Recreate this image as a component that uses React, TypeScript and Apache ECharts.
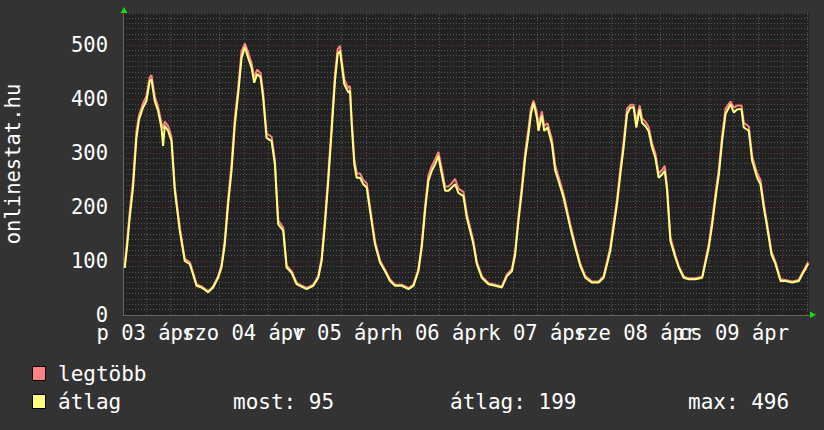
import React, { useEffect, useRef } from "react";
import * as echarts from "echarts";

// time in hours since 03 ápr 00:00
const hours = [
  6.82, 7.38, 8.05, 8.86, 9.69, 10.33, 11.31, 12.14, 12.95, 13.37, 14.18, 14.99, 15.82, 16.22, 16.63,
  17.44, 18.28, 19.09, 20.31, 21.54, 22.77, 23.58, 24.41, 25.64, 27.26, 28.48, 29.71, 30.54, 31.35, 32.16,
  33.0, 33.81, 34.62, 35.45, 36.26, 37.07, 37.91, 38.54, 39.28, 40.11, 40.75, 41.58, 42.81, 43.62, 44.43,
  45.66, 46.49, 47.72, 48.94,
  49.75, 51.4, 53.02, 54.24, 55.08, 55.89, 56.7, 57.53, 58.34, 59.0, 59.57, 59.98, 60.62, 61.6, 62.02,
  62.44, 63.08, 63.67, 64.48, 65.28, 66.12, 66.93, 68.15, 69.38, 70.61, 71.84, 73.07, 74.71, 76.33, 77.55,
  78.78, 79.61, 80.42, 81.23, 82.07, 82.88, 83.69, 84.53, 85.33, 86.14, 86.97, 87.78, 88.59, 89.82, 90.65,
  91.88,
  92.27, 93.11, 94.33, 95.95, 97.6, 99.24, 100.47, 101.69, 102.5, 103.31, 104.15, 104.96, 105.77, 106.36, 107.0,
  107.83, 108.22, 109.05, 109.62, 110.43, 111.51, 112.32, 113.13, 114.36, 115.19, 116.0, 117.22, 118.45, 119.68, 121.32,
  122.94, 124.17, 125.0, 125.81, 126.62, 127.45, 128.26, 129.07, 129.91, 130.72, 131.53, 132.19, 133.0, 133.59, 134.4,
  135.21, 136.04, 136.85, 137.66, 138.5, 139.14, 139.73, 140.54, 141.77, 142.58, 143.81, 145.04, 146.69, 148.33, 149.14,
  149.95, 150.79, 151.6, 152.41, 153.21, 154.05, 155.27, 156.08, 156.92, 157.95, 158.52, 159.75, 160.58, 161.8, 162.61,
  163.42, 164.26, 165.31, 166.3, 167.52, 168.75, 170.39, 172.0, 172.83, 173.64, 174.3,
];

// átlag (average)
const avgValues = [
  87, 125, 180, 236, 328, 362, 384, 396, 433, 436, 396, 378, 347, 313, 350,
  341, 322, 230, 156, 100, 94, 75, 54, 51, 42, 51, 69, 88, 131, 205,
  267, 353, 409, 476, 496, 476, 458, 430, 446, 440, 402, 328, 322, 279, 168,
  156, 88, 78, 57,
  54, 48, 54, 69, 100, 168, 248, 341, 433, 483, 489, 464, 427, 412, 415,
  353, 279, 254, 254, 242, 236, 193, 131, 97, 81, 63, 54, 54, 48, 54,
  81, 125, 193, 248, 267, 279, 294, 260, 230, 230, 236, 242, 226, 220, 180,
  143,
  131, 94, 69, 57, 54, 51, 72, 81, 112, 174, 230, 291, 335, 372, 393,
  365, 341, 369, 341, 347, 316, 267, 248, 217, 189, 162, 125, 91, 69, 60,
  60, 69, 94, 119, 162, 205, 260, 310, 372, 384, 384, 347, 381, 356, 350,
  340, 310, 291, 254, 260, 267, 230, 137, 106, 88, 69, 66, 66, 69, 97,
  125, 168, 217, 260, 322, 372, 390, 375, 381, 381, 347, 341, 285, 254, 242,
  199, 162, 112, 94, 63, 63, 60, 63, 75, 85, 95,
];

// legtöbb (maximum)
const maxValues = [
  92, 135, 192, 248, 340, 370, 392, 405, 440, 444, 405, 386, 356, 345, 358,
  350, 330, 238, 162, 104, 98, 78, 57, 53, 44, 53, 72, 93, 140, 215,
  280, 365, 420, 488, 503, 486, 466, 440, 454, 448, 410, 336, 330, 286, 175,
  162, 92, 81, 60,
  56, 50, 56, 72, 106, 178, 260, 352, 445, 492, 498, 474, 436, 420, 424,
  362, 288, 262, 262, 250, 244, 200, 136, 101, 84, 66, 56, 56, 50, 56,
  85, 132, 202, 258, 276, 288, 302, 270, 238, 238, 244, 252, 234, 228, 187,
  149,
  136, 98, 72, 59, 56, 53, 75, 85, 118, 183, 240, 302, 346, 382, 397,
  374, 352, 377, 350, 355, 325, 276, 256, 224, 196, 168, 130, 95, 72, 62,
  62, 72, 99, 126, 170, 214, 270, 320, 382, 389, 389, 358, 388, 364, 358,
  348, 318, 299, 262, 268, 276, 238, 144, 110, 91, 71, 68, 68, 71, 102,
  132, 176, 226, 270, 332, 382, 395, 384, 388, 388, 356, 349, 294, 262, 250,
  206, 168, 117, 98, 66, 65, 62, 65, 78, 89, 98,
];

// day labels, centred at noon; split over two axes so that none get hidden
const labelHoursA = [12, 60, 108, 156];
const labelsA = ["p 03 ápr", "v 05 ápr", "k 07 ápr", "cs 09 ápr"];
const labelHoursB = [36, 84, 132];
const labelsB = ["szo 04 ápr", "h 06 ápr", "sze 08 ápr"];
const minorGridHours = [12, 18, 30, 36, 42, 54, 60, 66, 78, 84, 90, 102, 108, 114, 126, 132, 138, 150, 156, 162, 174];
const dayGridHours = [24, 48, 72, 96, 120, 144, 168];
const majorValueLines = [100, 200, 300, 400, 500];
const legendNames = ["legtöbb", "átlag"];
const statTexts = ["most: 95", "átlag: 199", "max: 496"];

const FONT = "'DejaVu Sans Mono', monospace";
const MINOR = "#555555";
const MAJOR = "#6e3636";
const PINK = "#ff8080";
const YELLOW = "#ffff80";
const X_MIN = 6.4;
const X_MAX = 174.5;

function xAxisFor(vals: number[], texts: string[], showLine: boolean) {
  return {
    type: "value",
    position: "bottom",
    offset: 0,
    min: X_MIN,
    max: X_MAX,
    axisLine: { show: showLine, onZero: false, lineStyle: { color: "#666666", width: 1 } },
    axisTick: { show: false },
    splitLine: { show: false },
    axisLabel: {
      customValues: vals,
      showMinLabel: true,
      showMaxLabel: true,
      hideOverlap: false,
      formatter: (v: number) => {
        const i = vals.indexOf(v);
        return i >= 0 ? texts[i] : "";
      },
      color: "#ffffff",
      fontFamily: FONT,
      fontSize: 20.5,
      margin: 7,
    },
  };
}

export default function App() {
  const ref = useRef<HTMLDivElement>(null);
  useEffect(() => {
    const chart = echarts.init(ref.current!, null, { renderer: "svg" });
    const dotted = [1, 2];
    const legendText = (x: number, y: number, text: string) => ({
      type: "text",
      x,
      y,
      style: { text, fill: "#ffffff", fontFamily: FONT, fontSize: 21, verticalAlign: "middle" },
    });
    chart.setOption({
      animation: false,
      backgroundColor: "#333333",
      grid: {
        left: 123, right: 15, top: 13, bottom: 115,
        show: true, backgroundColor: "#222222", borderWidth: 0,
        containLabel: false, outerBoundsMode: "none",
      },
      xAxis: [xAxisFor(labelHoursA, labelsA, true), xAxisFor(labelHoursB, labelsB, false)],
      yAxis: {
        type: "value",
        min: 0,
        max: 559,
        interval: 10,
        axisLine: { show: true, lineStyle: { color: "#666666", width: 1 } },
        axisTick: { show: false },
        splitLine: { show: true, lineStyle: { color: MINOR, type: dotted, width: 1 } },
        axisLabel: {
          formatter: (v: number) => (v % 100 === 0 ? String(v) : ""),
          color: "#ffffff",
          fontFamily: FONT,
          fontSize: 20.5,
          margin: 15,
        },
        name: "onlinestat.hu",
        nameLocation: "middle",
        nameGap: 100,
        nameRotate: 90,
        nameTextStyle: { color: "#ffffff", fontFamily: FONT, fontSize: 20.5 },
      },
      series: [
        {
          type: "line",
          name: legendNames[0],
          xAxisIndex: 0,
          data: hours.map((h, i) => [h, maxValues[i]]),
          showSymbol: false,
          symbol: "none",
          lineStyle: { color: PINK, width: 2 },
          itemStyle: { color: PINK },
          z: 3,
          silent: true,
          markLine: {
            silent: true,
            symbol: ["none", "none"],
            z: 1,
            label: { show: false },
            emphasis: { disabled: true },
            data: [
              ...minorGridHours.map((h) => ({ xAxis: h, lineStyle: { color: MINOR, type: dotted, width: 1 } })),
              ...dayGridHours.map((h) => ({ xAxis: h, lineStyle: { color: MAJOR, type: dotted, width: 1 } })),
              ...majorValueLines.map((v) => ({ yAxis: v, lineStyle: { color: MAJOR, type: dotted, width: 1 } })),
            ],
          },
        },
        {
          type: "line",
          name: legendNames[1],
          xAxisIndex: 0,
          data: hours.map((h, i) => [h, avgValues[i]]),
          showSymbol: false,
          symbol: "none",
          lineStyle: { color: YELLOW, width: 2 },
          itemStyle: { color: YELLOW },
          z: 4,
          silent: true,
        },
      ],
      graphic: [
        { type: "rect", shape: { x: 32.5, y: 366.5, width: 13, height: 14 }, style: { fill: PINK, stroke: "#000000", lineWidth: 1 } },
        { type: "rect", shape: { x: 32.5, y: 394.5, width: 13, height: 14 }, style: { fill: YELLOW, stroke: "#000000", lineWidth: 1 } },
        legendText(58, 373.5, legendNames[0]),
        legendText(58, 401.5, legendNames[1]),
        legendText(233, 401.5, statTexts[0]),
        legendText(450, 401.5, statTexts[1]),
        legendText(688, 401.5, statTexts[2]),
        { type: "polygon", shape: { points: [[120.5, 13], [127.5, 13], [124, 7]] }, style: { fill: "#11dd11" } },
        { type: "polygon", shape: { points: [[810, 311.5], [810, 318], [816, 314.75]] }, style: { fill: "#11dd11" } },
      ],
    });
    return () => chart.dispose();
  }, []);
  return <div ref={ref} style={{ position: "fixed", left: 0, top: 0, width: 824, height: 430 }} />;
}
